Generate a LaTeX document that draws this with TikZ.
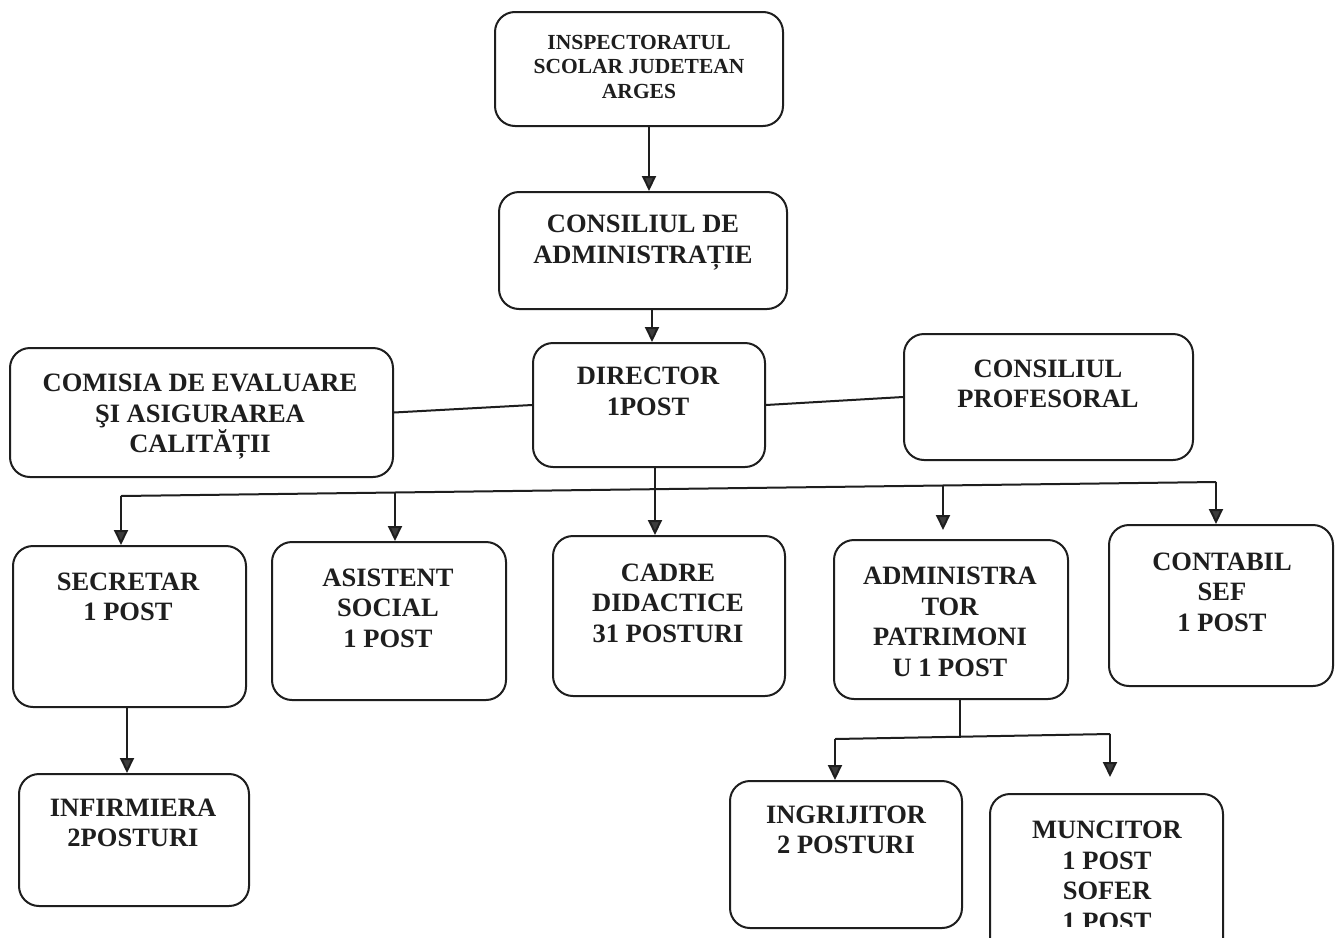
\documentclass[tikz,border=0pt]{standalone}
\usepackage{fontspec}
\setmainfont{Liberation Serif}
\usetikzlibrary{arrows.meta,calc}
\definecolor{ink}{HTML}{1E1E1E}
\definecolor{tipfill}{HTML}{3C3C3C}
\begin{document}
\begin{tikzpicture}[x=1pt,y=-1pt,
  box/.style={draw=ink,line width=2pt,rounded corners=20pt,inner sep=0pt},
  txt/.style={align=center,font=\bfseries\fontsize{26.5}{30.5}\selectfont,text=ink,inner sep=0pt},
  smalltxt/.style={align=center,font=\bfseries\fontsize{21.5}{24.5}\selectfont,text=ink,inner sep=0pt},
  conn/.style={draw=ink,line width=2pt},
  arr/.style={conn,-{Triangle[width=14pt,length=15pt,fill=tipfill]}}]
\clip (0,0) rectangle (1335,937);
\fill[white] (0,0) rectangle (1335,937);
% boxes
\node[box,minimum width=288pt,minimum height=114pt] (isj) at (639,69) {};
\node[box,minimum width=288pt,minimum height=117pt] (ca) at (643,250.5) {};
\node[box,minimum width=232pt,minimum height=124pt] (dir) at (649,405) {};
\node[box,minimum width=383pt,minimum height=129pt] (com) at (201.5,412.5) {};
\node[box,minimum width=289pt,minimum height=126pt] (cp) at (1048.5,397) {};
\node[box,minimum width=233pt,minimum height=161pt] (sec) at (129.5,626.5) {};
\node[box,minimum width=234pt,minimum height=158pt] (asi) at (389,621) {};
\node[box,minimum width=232pt,minimum height=160pt] (cad) at (669,616) {};
\node[box,minimum width=234pt,minimum height=159pt] (adm) at (951,619.5) {};
\node[box,minimum width=224pt,minimum height=161pt] (con) at (1221,605.5) {};
\node[box,minimum width=230pt,minimum height=132pt] (inf) at (134,840) {};
\node[box,minimum width=232pt,minimum height=147pt] (ing) at (846,854.5) {};
\node[box,minimum width=233pt,minimum height=165pt] (mun) at (1106.5,876.5) {};
% texts
\node[smalltxt] (isjt) at (639,66.5) {INSPECTORATUL\\SCOLAR JUDETEAN\\ARGES};
\node[txt] (cat) at (643,242.5) {CONSILIUL DE\\ADMINISTRAȚIE};
\node[txt] (dirt) at (648,391.5) {DIRECTOR\\1POST};
\node[txt] (comt) at (200,417) {COMISIA DE EVALUARE\\ŞI ASIGURAREA\\CALITĂȚII};
\node[txt] (cpt) at (1048,384) {CONSILIUL\\PROFESORAL};
\node[txt] (sect) at (128,597) {SECRETAR\\1 POST};
\node[txt] (asit) at (388,608) {ASISTENT\\SOCIAL\\1 POST};
\node[txt] (cadt) at (668,603) {CADRE\\DIDACTICE\\31 POSTURI};
\node[txt] (admt) at (950,622) {ADMINISTRA\\TOR\\PATRIMONI\\U 1 POST};
\node[txt] (cont) at (1222,592) {CONTABIL\\SEF\\1 POST};
\node[txt] (inft) at (133,823) {INFIRMIERA\\2POSTURI};
\node[txt] (ingt) at (846,830) {INGRIJITOR\\2 POSTURI};
\begin{scope}
\clip (900,780) rectangle (1300,926);
\node[txt] (munt) at (1107,876) {MUNCITOR\\1 POST\\SOFER\\1 POST};
\end{scope}
% connectors top
\coordinate (a1) at (649,0);
\draw[arr] (isj.south -| a1) -- (ca.north -| a1);
\coordinate (a2) at (652,0);
\draw[arr] (ca.south -| a2) -- (dir.north -| a2);
\draw[conn] (com.east) -- (dir.west);
\draw[conn] (dir.east) -- (cp.west);
% bus
\coordinate (busL) at (121,496);
\coordinate (busR) at (1216,482);
\draw[conn] (busL) -- (busR);
\coordinate (b2) at (395,492.6);
\coordinate (b3) at (655,489.4);
\coordinate (b4) at (943,485.4);
\draw[arr] (busL) -- (busL |- sec.north);
\draw[arr] (b2) -- (b2 |- asi.north);
\draw[arr] (dir.south -| b3) -- (b3 |- cad.north);
\draw[arr,shorten >=9pt] (b4) -- (b4 |- adm.north);
\draw[arr] (busR) -- (busR |- con.north);
% secretar -> infirmiera
\coordinate (s1) at (127,0);
\draw[arr] (sec.south -| s1) -- (inf.north -| s1);
% administrator -> ingrijitor / muncitor
\coordinate (d1) at (960,738);
\coordinate (dL) at (835,739);
\coordinate (dR) at (1110,734);
\coordinate (mtip) at (1110,777);
\draw[conn] (adm.south -| d1) -- (d1);
\draw[conn] (dL) -- (dR);
\draw[arr] (dL) -- (dL |- ing.north);
\draw[arr] (dR) -- (mtip);
\end{tikzpicture}
\end{document}
